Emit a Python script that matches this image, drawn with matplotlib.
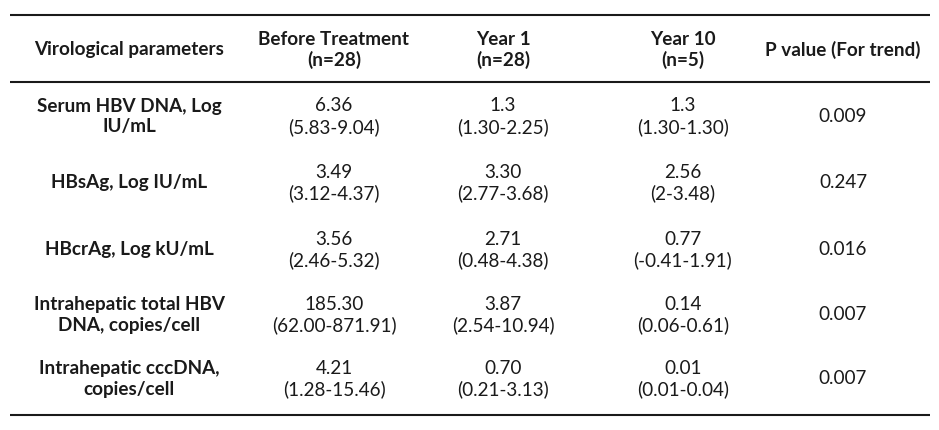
import matplotlib
matplotlib.use("Agg")
import matplotlib.pyplot as plt

headers = ["Virological parameters", "Before Treatment\n(n=28)", "Year 1\n(n=28)", "Year 10\n(n=5)", "P value (For trend)"]
params = ["Serum HBV DNA, Log\nIU/mL", "HBsAg, Log IU/mL", "HBcrAg, Log kU/mL",
          "Intrahepatic total HBV\nDNA, copies/cell", "Intrahepatic cccDNA,\ncopies/cell"]
before = ["6.36\n(5.83-9.04)", "3.49\n(3.12-4.37)", "3.56\n(2.46-5.32)", "185.30\n(62.00-871.91)", "4.21\n(1.28-15.46)"]
year1 = ["1.3\n(1.30-2.25)", "3.30\n(2.77-3.68)", "2.71\n(0.48-4.38)", "3.87\n(2.54-10.94)", "0.70\n(0.21-3.13)"]
year10 = ["1.3\n(1.30-1.30)", "2.56\n(2-3.48)", "0.77\n(-0.41-1.91)", "0.14\n(0.06-0.61)", "0.01\n(0.01-0.04)"]
pvals = ["0.009", "0.247", "0.016", "0.007", "0.007"]

W, H = 939, 431
fig = plt.figure(figsize=(W / 100, H / 100), dpi=100)
ax = fig.add_axes([0, 0, 1, 1])
ax.set_xlim(0, W)
ax.set_ylim(H, 0)
ax.axis("off")

font = "Lato"
fs = 13.6
col_x = [129, 334, 503, 683, 843]
header_y = 50
row_y = [116.5, 183, 250, 315, 379]
color = "#1a1a1a"
lsp = 1.25

for x, h in zip(col_x, headers):
    ax.text(x, header_y, h, ha="center", va="center", fontsize=fs, fontweight="bold",
            family=font, color=color, linespacing=lsp)

columns = [params, before, year1, year10, pvals]
for ci, col in enumerate(columns):
    for ri, txt in enumerate(col):
        ax.text(col_x[ci], row_y[ri], txt, ha="center", va="center", fontsize=fs,
                fontweight="bold" if ci == 0 else "normal", family=font, color=color,
                linespacing=lsp)

for y in [16, 83, 416]:
    ax.plot([10, 930], [y, y], color=color, lw=1.5, solid_capstyle="butt")

fig.savefig("out.png", dpi=100, facecolor="white")
